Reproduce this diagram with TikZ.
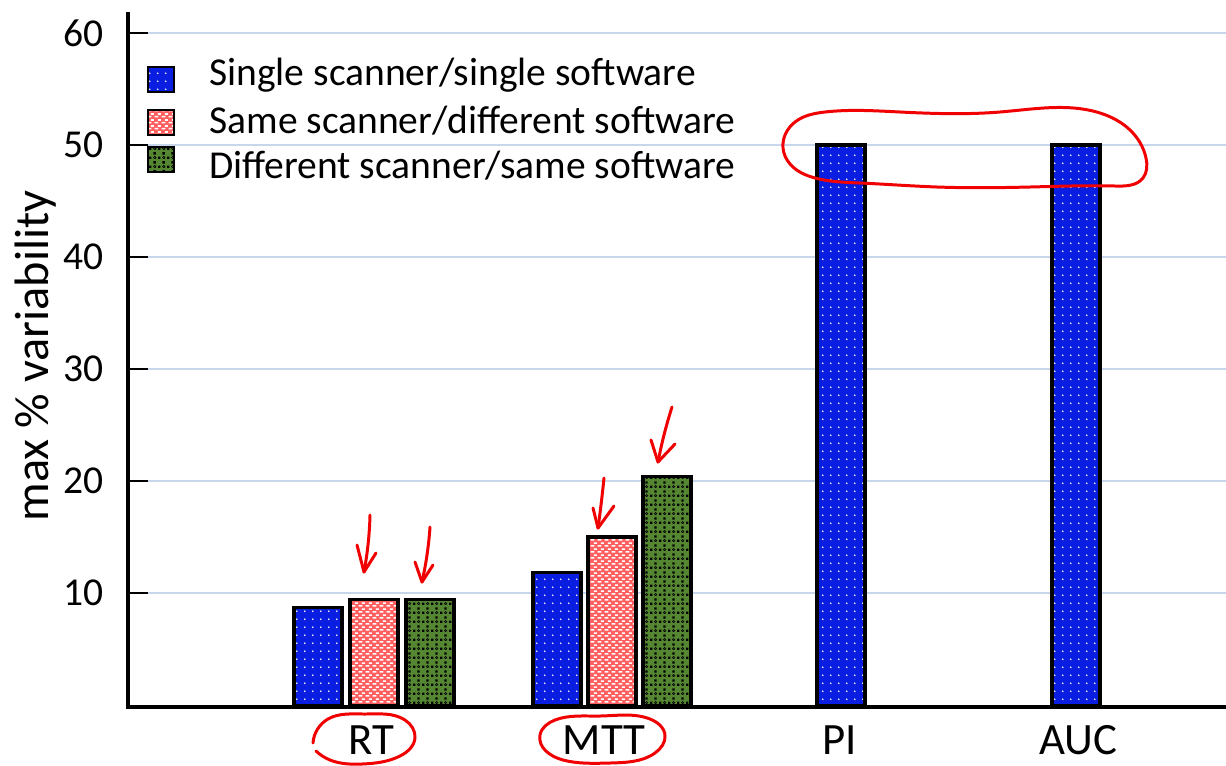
\documentclass[tikz,border=0pt]{standalone}
\usepackage{fontspec}
\setmainfont{Carlito}
\usepackage{tikz}
\usetikzlibrary{patterns,hobby}
\definecolor{barblue}{RGB}{10,30,225}
\definecolor{barpink}{RGB}{255,95,95}
\definecolor{bargreen}{RGB}{85,135,50}
\definecolor{gridblue}{RGB}{200,214,236}
\definecolor{inkred}{RGB}{240,0,0}

% fill patterns of the three bar kinds
\pgfdeclarepatternformonly{sparsedots}{\pgfpointorigin}{\pgfpoint{4.4pt}{4.4pt}}{\pgfpoint{4.4pt}{4.4pt}}%
  {\pgfpathcircle{\pgfpoint{2.2pt}{2.2pt}}{0.55pt}\pgfusepath{fill}}
\pgfdeclarepatternformonly{dashrows}{\pgfpointorigin}{\pgfpoint{4pt}{3.2pt}}{\pgfpoint{4pt}{3.2pt}}%
  {\pgfpathrectangle{\pgfpoint{0.4pt}{0.3pt}}{\pgfpoint{2.4pt}{0.9pt}}%
   \pgfpathrectangle{\pgfpoint{2.4pt}{1.9pt}}{\pgfpoint{2.4pt}{0.9pt}}\pgfusepath{fill}}
\pgfdeclarepatternformonly{checkdots}{\pgfpointorigin}{\pgfpoint{5pt}{5pt}}{\pgfpoint{5pt}{5pt}}%
  {\pgfpathrectangle{\pgfpoint{0pt}{0pt}}{\pgfpoint{1.4pt}{1.4pt}}%
   \pgfpathrectangle{\pgfpoint{2.5pt}{2.5pt}}{\pgfpoint{1.4pt}{1.4pt}}\pgfusepath{fill}%
   \pgfsetlinewidth{0.35pt}\pgfpathcircle{\pgfpoint{3.3pt}{0.8pt}}{0.7pt}\pgfusepath{stroke}}

\tikzset{
  bluebar/.style={preaction={fill=barblue}, preaction={pattern=sparsedots, pattern color=white}, draw=black, line width=1.8pt},
  pinkbar/.style={preaction={fill=barpink}, preaction={pattern=dashrows, pattern color=white}, draw=black, line width=1.8pt},
  greenbar/.style={preaction={fill=bargreen}, preaction={pattern=checkdots, pattern color=black}, draw=black, line width=1.8pt},
  swatch/.style={line width=1pt},
  ticklabel/.style={anchor=east, inner sep=0pt, font=\fontsize{22.5}{26}\selectfont},
  catlabel/.style={font=\fontsize{25.5}{30}\selectfont},
  legendtext/.style={anchor=west, inner sep=0pt, font=\fontsize{22.5}{26}\selectfont},
  scribble/.style={inkred, line width=1.7pt, line cap=round, line join=round},
}

\begin{document}
\begin{tikzpicture}[x=0.02cm, y=-0.02cm, use Hobby shortcut]
	\useasboundingbox (0,0) rectangle (1226,765);

	% grid lines, ticks and tick labels (10 units = 112px)
	\foreach \v in {10,20,...,60} {
		\draw[gridblue, line width=0.6pt] (148,{705-11.2*\v}) -- (1226,{705-11.2*\v});
		\draw[line width=1.1pt] (128,{705-11.2*\v}) -- (148,{705-11.2*\v});
		\node[ticklabel] (tick\v) at (104,{705-11.2*\v}) {\v};
	}

	% axes
	\draw[line width=1.8pt] (128,12) -- (128,707) -- (1226,707);
	\node[rotate=90, font=\fontsize{27.5}{32}\selectfont] (ylab) at (36,356) {max \% variability};

	% bars
	\draw[bluebar]  (294,706) rectangle (342,{705-11.2*8.7});
	\draw[pinkbar]  (350,706) rectangle (398,{705-11.2*9.4});
	\draw[greenbar] (406,706) rectangle (454,{705-11.2*9.4});

	\draw[bluebar]  (533,706) rectangle (581,{705-11.2*11.8});
	\draw[pinkbar]  (588,706) rectangle (636,{705-11.2*15});
	\draw[greenbar] (643,706) rectangle (691,{705-11.2*20.4});

	\draw[bluebar]  (817,706) rectangle (865,{705-11.2*50});
	\draw[bluebar]  (1052,706) rectangle (1100,{705-11.2*50});

	% category labels
	\node[catlabel] (rt)  at (371,740) {RT};
	\node[catlabel] (mtt) at (604,740) {MTT};
	\node[catlabel] (pi)  at (840,740) {PI};
	\node[catlabel] (auc) at (1078,740) {AUC};

	% legend
	\draw[bluebar, swatch]  (148,67) rectangle (174,92);
	\draw[pinkbar, swatch]  (148,110) rectangle (174,135);
	\draw[greenbar, swatch] (148,147) rectangle (174,172);
	\node[legendtext] (leg1) at (209,75) {Single scanner/single software};
	\node[legendtext] (leg2) at (209,121) {Same scanner/different software};
	\node[legendtext] (leg3) at (209,166) {Different scanner/same software};

	% red pen marks
	\draw[scribble, closed=true] (783,148) .. (795,122) .. (825,112) .. (900,112) .. (1000,112) .. (1100,113) .. (1130,130) .. (1146,158) .. (1143,178) .. (1115,186) .. (1030,187) .. (937,187) .. (860,183) .. (815,178) .. (790,164);
	\draw[scribble] (313,743) .. (328,719) .. (365,714) .. (405,720) .. (415,738) .. (400,756) .. (362,764) .. (330,760) .. (316,751);
	\draw[scribble, closed=true] (540,735) .. (555,720) .. (600,716) .. (650,719) .. (665,735) .. (655,753) .. (610,763) .. (563,760);

	\draw[scribble] (370,515) .. (368,545) .. (364,572);
	\draw[scribble] (357,545) -- (364,572) -- (376,553);
	\draw[scribble] (430,527) .. (427,555) .. (422,582);
	\draw[scribble] (415,562) -- (422,582) -- (433,565);
	\draw[scribble] (604,478) .. (601,505) .. (598,528);
	\draw[scribble] (593,508) -- (598,528) -- (614,506);
	\draw[scribble] (672,407) .. (664,435) .. (658,462);
	\draw[scribble] (651,440) -- (658,462) -- (675,444);
\end{tikzpicture}
\end{document}
